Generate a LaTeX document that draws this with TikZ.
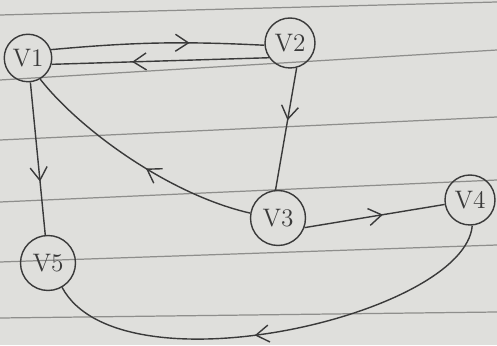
\documentclass[tikz,border=0pt]{standalone}
\usepackage{tikz}
\usetikzlibrary{arrows.meta,decorations.markings}
\definecolor{Paper}{HTML}{DFDFDC}
\definecolor{RuleGray}{HTML}{8E8E8C}
\definecolor{Ink}{HTML}{3A3A3A}

\begin{document}
\begin{tikzpicture}[x=0.02cm,y=0.02cm,>=Latex,
 vert/.style={circle,draw=Ink,thick,minimum size=10mm,inner sep=0pt,font=\Large,text=Ink},
 link/.style={draw=Ink,thick,postaction={decorate},
  decoration={markings,mark=at position #1 with {\arrow{Straight Barb[length=2.6mm,width=3.4mm]}}}},
 link/.default=0.55,
 rule/.style={draw=RuleGray,line width=0.7pt}]
\useasboundingbox (0,0) rectangle (497,345);
% paper and its ruled lines
\fill[Paper] (0,0) rectangle (497,345);
\draw[rule] (0,330)--(497,343);
\draw[rule] (0,265)--(497,295);
\draw[rule] (0,205)--(497,228);
\draw[rule] (0,143)--(497,165);
\draw[rule] (0,83)--(497,100);
\draw[rule] (0,27)--(497,33);
% vertices
\node[vert,minimum width=8.5mm,minimum height=9.5mm] (v1) at (28,287) {V1};
\node[vert] (v2) at (290,302) {V2};
\node[vert,minimum size=11mm] (v3) at (278,127) {V3};
\node[vert] (v4) at (470,145) {V4};
\node[vert,minimum size=11mm] (v5) at (48,82) {V5};
% edges
\draw[link=0.65] (v1.20) to[bend left=4] (v2.185);
\draw[link=0.63] (v2.215) -- (v1.-15);
\draw[link=0.43] (v2.-75) -- (v3.95);
\draw[link=0.45] (v3.170) .. controls (170,150) and (80,215) .. (v1.-60);
\draw[link=0.65] (v1) -- (v5);
\draw[link=0.56] (v3.-20) -- (v4.190);
\draw[link=0.55] (v4.-85) .. controls (465,30) and (120,-50) .. (v5.-60);
\end{tikzpicture}
\end{document}
